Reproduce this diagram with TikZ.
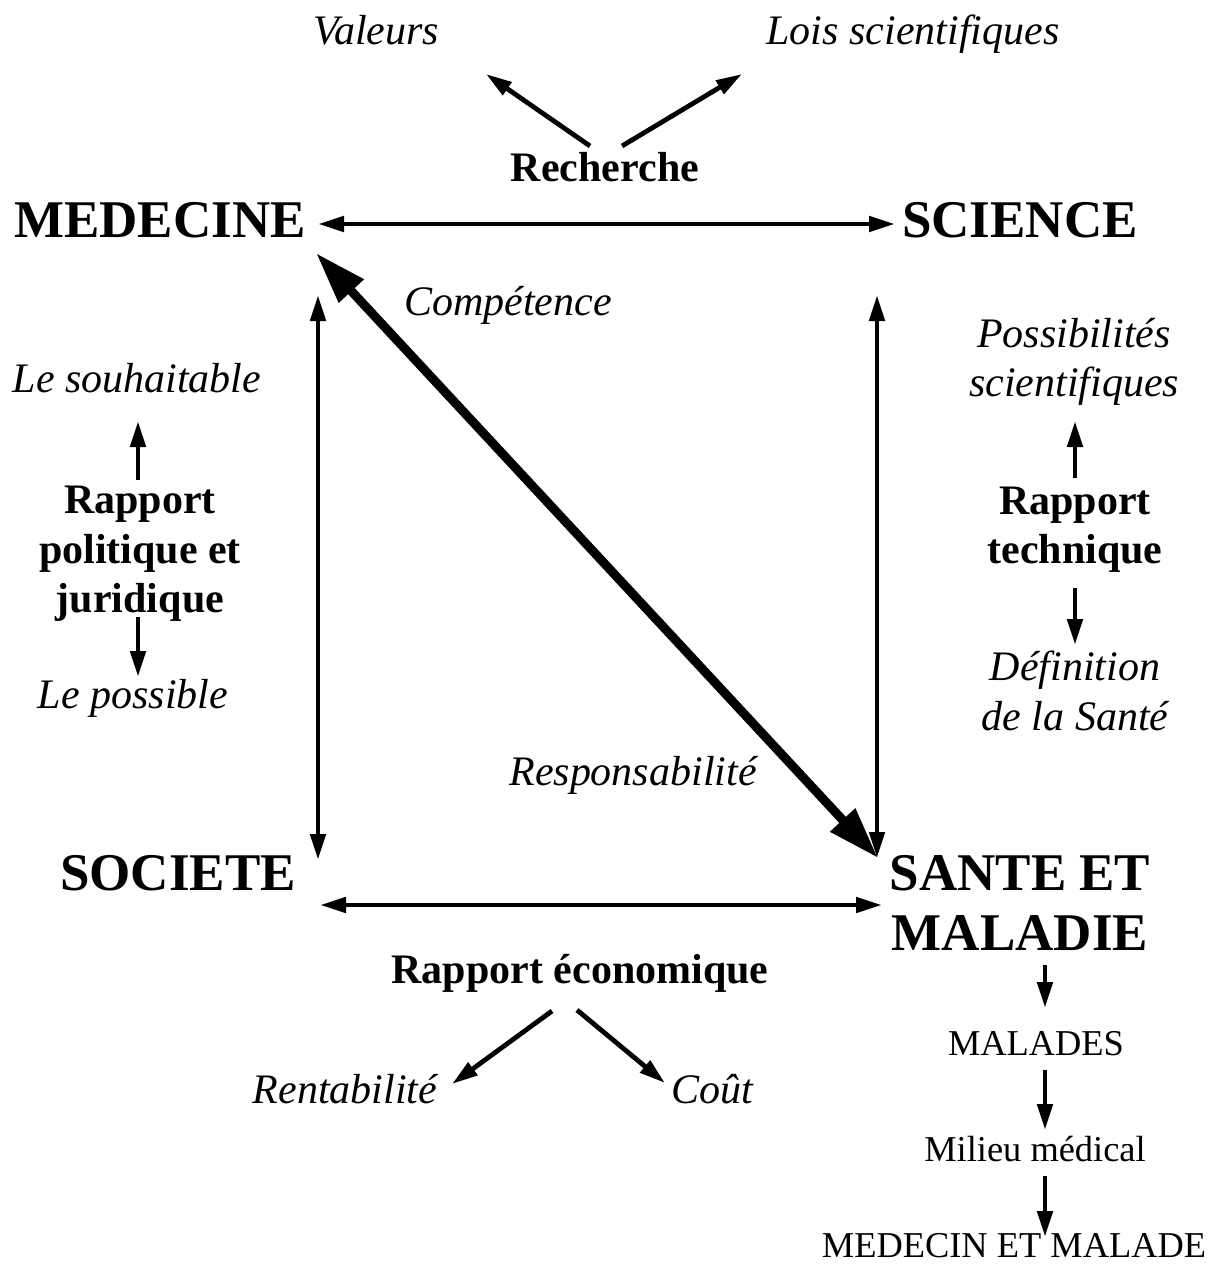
\documentclass[tikz,border=0pt]{standalone}
\usepackage{fontspec}
\setmainfont{Liberation Serif}
\usetikzlibrary{arrows.meta,calc}
\begin{document}
\begin{tikzpicture}[x=0.5pt,y=-0.5pt,
  big/.style={font=\fontsize{26.5}{30}\selectfont\bfseries, inner sep=0pt, anchor=base},
  lbl/.style={font=\fontsize{21}{25}\selectfont\itshape, inner sep=0pt, anchor=base},
  bld/.style={font=\fontsize{21}{25}\selectfont\bfseries, inner sep=0pt, anchor=base},
  reg/.style={font=\fontsize{18.2}{22}\selectfont, inner sep=0pt, anchor=base},
  arr/.style={line width=2.4pt, -{Triangle[length=13pt,width=7.5pt]}},
  darr/.style={line width=2.4pt, {Triangle[length=13pt,width=7.5pt]}-{Triangle[length=13pt,width=7.5pt]}},
  bigarr/.style={line width=4.5pt, {Triangle[length=26pt,width=16pt]}-{Triangle[length=26pt,width=16pt]}}
]
\useasboundingbox (0,0) rectangle (1228,1265);

% main nodes
\node[big] (med) at (160,237) {MEDECINE};
\node[big] (sci) at (1020,237) {SCIENCE};
\node[big] (soc) at (178,890) {SOCIETE};
\node[big] (san) at (1020,890) {SANTE ET};
\node[big] (mal) at (1020,950) {MALADIE};

% top labels
\node[lbl] (val) at (376,44) {Valeurs};
\node[lbl] (lois) at (913,44) {Lois scientifiques};
\node[bld] (rech) at (605,181) {Recherche};
\node[lbl] (comp) at (508,315) {Compétence};
\node[lbl] (resp) at (633,785) {Responsabilité};

% left column
\node[lbl] (souh) at (137,392) {Le souhaitable};
\node[bld] (rp1) at (140,513) {Rapport};
\node[bld] (rp2) at (140,563) {politique et};
\node[bld] (rp3) at (140,612) {juridique};
\node[lbl] (poss) at (133,708) {Le possible};

% right column
\node[lbl] (ps1) at (1074,347) {Possibilités};
\node[lbl] (ps2) at (1074,396) {scientifiques};
\node[bld] (rt1) at (1075,514) {Rapport};
\node[bld] (rt2) at (1075,563) {technique};
\node[lbl] (df1) at (1075,680) {Définition};
\node[lbl] (df2) at (1075,730) {de la Santé};

% bottom
\node[bld] (eco) at (580,983) {Rapport économique};
\node[lbl] (rent) at (345,1103) {Rentabilité};
\node[lbl] (cout) at (712,1103) {Coût};
\node[reg] (mals) at (1036,1055) {MALADES};
\node[reg] (mil) at (1035,1161) {Milieu médical};
\node[reg] (mem) at (1014,1257) {MEDECIN ET MALADE};

% connector end points
\coordinate (mE) at (318,224);
\coordinate (sW) at (895,224);
\coordinate (mS) at (318,295);
\coordinate (oN) at (318,860);
\coordinate (sS) at (877,295);
\coordinate (aN) at (877,858);
\coordinate (oE) at (320,905);
\coordinate (aW) at (882,905);
\coordinate (mSE) at (316,253);
\coordinate (aNW) at (878,858);

\draw[darr] (mE) -- (sW);
\draw[darr] (mS) -- (oN);
\draw[darr] (sS) -- (aN);
\draw[darr] (oE) -- (aW);
\draw[bigarr] (mSE) -- (aNW);

% Recherche arrows
\coordinate (rL) at (590,146);
\coordinate (rR) at (622,146);
\draw[arr] (rL) -- (486,74) coordinate (valT);
\draw[arr] (rR) -- (742,74) coordinate (loisT);

% left column arrows
\draw[arr] (138,480) coordinate (lu) -- (138,421) coordinate (luT);
\draw[arr] (138,617) coordinate (ld) -- (138,677) coordinate (ldT);

% right column arrows
\draw[arr] (1075,478) coordinate (ru) -- (1075,421) coordinate (ruT);
\draw[arr] (1075,588) coordinate (rd) -- (1075,645) coordinate (rdT);

% economic arrows
\draw[arr] (552,1011) coordinate (eL) -- (452,1084) coordinate (eLT);
\draw[arr] (577,1010) coordinate (eR) -- (665,1083) coordinate (eRT);

% chain
\draw[arr] (1045,965) coordinate (c1) -- (1045,1008) coordinate (c1T);
\draw[arr] (1045,1070) coordinate (c2) -- (1045,1130) coordinate (c2T);
\draw[arr] (1045,1176) coordinate (c3) -- (1045,1237) coordinate (c3T);
\end{tikzpicture}
\end{document}
